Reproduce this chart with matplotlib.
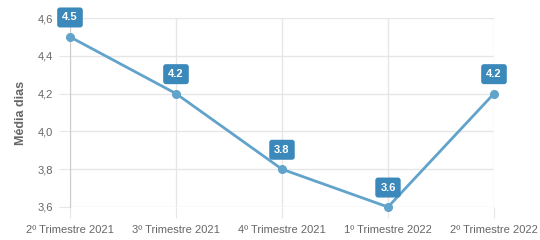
import matplotlib
matplotlib.use("Agg")
from matplotlib import pyplot as plt
from matplotlib.ticker import FuncFormatter

trimestres = ['2º Trimestre 2021', '3º Trimestre 2021', '4º Trimestre 2021',
              '1º Trimestre 2022', '2º Trimestre 2022']
media_dias = [4.5, 4.2, 3.8, 3.6, 4.2]
yticks = [3.6, 3.8, 4.0, 4.2, 4.4, 4.6]

cor_linha = '#62a3cb'
cor_rotulo = '#3b88bb'
cor_texto = '#666666'
cor_grade = '#e6e6e6'

plt.rcParams['font.family'] = ['Liberation Sans', 'DejaVu Sans']

fig = plt.figure(figsize=(5.4, 2.4), dpi=100)
ax = fig.add_axes([0.1296, 0.1375, 0.7852, 0.7875])

x = list(range(len(trimestres)))
ax.plot(x, media_dias, color=cor_linha, linewidth=2, marker='o', markersize=5.5,
        clip_on=False, zorder=3)

for xi, v in zip(x, media_dias):
  ax.annotate(f'{v:.1f}', (xi, v), xytext=(0, 14), textcoords='offset points',
              ha='center', va='center', fontsize=8, fontweight='bold', color='white',
              bbox=dict(boxstyle='round,pad=0.45,rounding_size=0.25', fc=cor_rotulo, ec='none'),
              zorder=4, annotation_clip=False)

ax.set_xlim(0, len(trimestres) - 1)
ax.set_ylim(3.6, 4.6)
ax.set_xticks(x)
ax.set_xticklabels(trimestres)
ax.set_yticks(yticks)
ax.yaxis.set_major_formatter(FuncFormatter(lambda v, p: f'{v:.1f}'.replace('.', ',')))

ax.grid(True, color=cor_grade, linewidth=1)
ax.set_axisbelow(True)
for lado in ['top', 'right', 'bottom']:
  ax.spines[lado].set_visible(False)
ax.spines['left'].set_color('#cccccc')
ax.tick_params(axis='x', length=8, color=cor_grade, labelsize=8, labelcolor=cor_texto, pad=5)
ax.tick_params(axis='y', length=8, color=cor_grade, labelsize=8, labelcolor=cor_texto, pad=4)
ax.set_ylabel('Média dias', fontsize=9, fontweight='bold', color=cor_texto, labelpad=8)

fig.savefig('out.png', dpi=100)
